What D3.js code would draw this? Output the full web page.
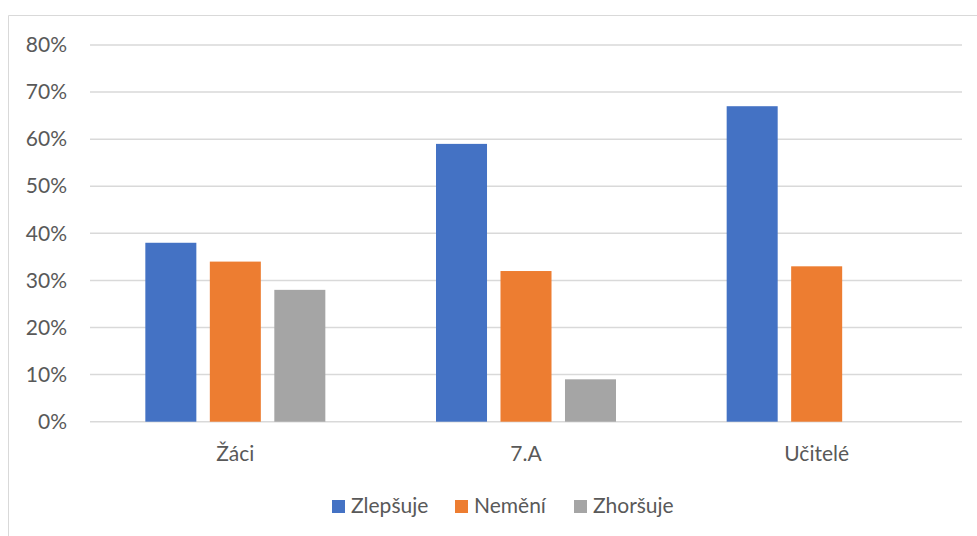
<!DOCTYPE html>
<html>
<head>
<meta charset="utf-8">
<script src="https://cdn.jsdelivr.net/npm/d3@7"></script>
<style>
  html, body { margin: 0; padding: 0; background: #fff; }
  svg { display: block; }
  text { font-family: Lato, "Open Sans", sans-serif; fill: #595959; }
</style>
</head>
<body>
<svg id="chart" width="977" height="536"></svg>
<script>
// Categories, series and values (percent)
const categories = ["Žáci", "7.A", "Učitelé"];
const seriesNames = ["Zlepšuje", "Nemění", "Zhoršuje"];
const zlepsuje = [38, 59, 67];
const nemeni   = [34, 32, 33];
const zhorsuje = [28, 9, null];
const yTicks = [0, 10, 20, 30, 40, 50, 60, 70, 80];
const colors = ["#4472C4", "#ED7D31", "#A5A5A5"];

const seriesValues = [zlepsuje, nemeni, zhorsuje];
const rows = categories.map((c, i) => ({
  category: c,
  values: seriesNames.map((s, j) => ({ series: s, value: seriesValues[j][i] }))
}));

const svg = d3.select("#chart");
const fontSize = 21;

// Chart area frame (left and top edges visible)
svg.append("path")
  .attr("d", "M8.5,536 V15.5 H977")
  .attr("fill", "none")
  .attr("stroke", "#d9d9d9")
  .attr("stroke-width", 1);

const plot = { left: 90, right: 962, top: 45, bottom: 421.7 };

const y = d3.scaleLinear().domain([0, 80]).range([plot.bottom, plot.top]);
const x0 = d3.scaleBand().domain(categories).range([plot.left, plot.right]).padding(0);
const groupWidth = 180;
const x1 = d3.scaleBand().domain(seriesNames)
  .range([(x0.bandwidth() - groupWidth) / 2, (x0.bandwidth() + groupWidth) / 2])
  .paddingInner(0.209).paddingOuter(0);

// Gridlines
svg.append("g")
  .selectAll("line")
  .data(yTicks)
  .join("line")
  .attr("x1", plot.left).attr("x2", plot.right)
  .attr("y1", d => y(d)).attr("y2", d => y(d))
  .attr("stroke", "#d9d9d9")
  .attr("stroke-width", 1.5);

// Y axis labels
const yAxis = d3.axisLeft(y).tickValues(yTicks).tickFormat(d => d + "%").tickSize(0).tickPadding(0);
const yg = svg.append("g").attr("transform", "translate(67,0)").call(yAxis);
yg.select(".domain").remove();
yg.selectAll("text")
  .attr("font-size", fontSize)
  .attr("font-family", "Lato, sans-serif")
  .attr("fill", "#595959");

// Bars
const groups = svg.append("g")
  .selectAll("g")
  .data(rows)
  .join("g")
  .attr("transform", d => `translate(${x0(d.category)},0)`);

groups.selectAll("rect")
  .data(d => d.values.filter(v => v.value != null))
  .join("rect")
  .attr("x", d => x1(d.series))
  .attr("width", x1.bandwidth())
  .attr("y", d => y(d.value))
  .attr("height", d => y(0) - y(d.value))
  .attr("fill", d => colors[seriesNames.indexOf(d.series)]);

// X axis labels
const xAxis = d3.axisBottom(x0).tickSize(0).tickPadding(0);
const xg = svg.append("g").attr("transform", "translate(0,446)").call(xAxis);
xg.select(".domain").remove();
xg.selectAll("text")
  .attr("font-size", fontSize)
  .attr("font-family", "Lato, sans-serif")
  .attr("fill", "#595959")
  .attr("dy", "0.71em");

// Legend
const legendX = [332, 455, 574];
const legend = svg.append("g")
  .selectAll("g")
  .data(seriesNames)
  .join("g")
  .attr("transform", (d, i) => `translate(${legendX[i]},500)`);
legend.append("rect")
  .attr("width", 13).attr("height", 13)
  .attr("fill", (d, i) => colors[i]);
legend.append("text")
  .attr("x", 19).attr("y", 13)
  .attr("font-size", fontSize)
  .text(d => d);
</script>
</body>
</html>
